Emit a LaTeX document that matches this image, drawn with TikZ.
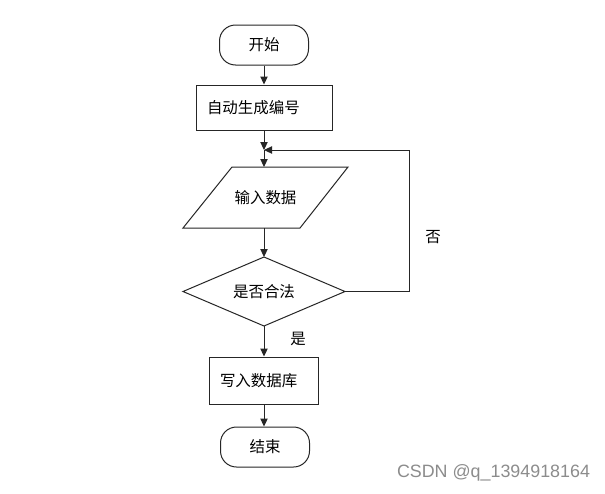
\documentclass[tikz,border=0pt]{standalone}
\usepackage{fontspec}
\setmainfont{Noto Sans CJK SC}
\newfontfamily\wmfont{Liberation Sans}
\usetikzlibrary{arrows.meta}
\begin{document}
\begin{tikzpicture}[x=0.75pt,y=-0.75pt,
  every node/.style={font=\fontsize{11.6pt}{13pt}\selectfont},
  line/.style={draw=black!85, line width=0.75pt},
  arr/.style={line, -{Triangle[length=6pt,width=5.5pt]}},
  term/.style={line, rounded corners=12pt, minimum width=66.75pt, minimum height=30pt, inner sep=0pt},
  procbox/.style={line, align=left, inner xsep=8.25pt, inner ysep=0pt},
  lbl/.style={inner sep=0pt}
]
\useasboundingbox (0,0) rectangle (605,493);
\fill[white] (0,0) rectangle (605,493);

% start
\node[term] (start) at (264,45) {开始};
% auto-generate number
\node[procbox, text width=85.5pt, minimum height=33.75pt] (gen) at (264,107.5) {自动生成编号};
% junction
\coordinate (j) at (264,150);
% parallelogram
\coordinate (p1) at (232,167);
\coordinate (p2) at (348,167);
\coordinate (p3) at (300,228);
\coordinate (p4) at (183,228);
\coordinate (ptop) at (264,167);
\coordinate (pbot) at (264,228);
\draw[line] (p1) -- (p2) -- (p3) -- (p4) -- cycle;
\node[lbl] (inp) at (265.5,197.5) {输入数据};
% diamond
\coordinate (dT) at (264,257);
\coordinate (dR) at (345,291.5);
\coordinate (dB) at (264,326);
\coordinate (dL) at (183,291.5);
\draw[line] (dT) -- (dR) -- (dB) -- (dL) -- cycle;
\node[lbl] (chk) at (264,291.5) {是否合法};
% write db
\node[procbox, text width=65.25pt, minimum height=35.25pt] (db) at (263.5,380.5) {写入数据库};
% end
\node[term] (end) at (265,447) {结束};

% connectors
\draw[arr] (start.south -| j) -- (gen.north -| j);
\draw[arr] (gen.south -| j) -- (j);
\draw[arr] (j) -- (ptop);
\draw[arr] (pbot) -- (dT);
\coordinate (lc) at (409,291.5);
\draw[arr] (dR) -- (lc) |- (j);
\draw[arr] (dB) -- (db.north -| dB);
\draw[arr] (db.south -| dB) -- (end.north -| dB);

% labels
\node[lbl] (no) at (433,237) {否};
\node[lbl] (yes) at (298,339) {是};
\node[inner sep=0pt, font=\wmfont\fontsize{13.4pt}{15pt}\selectfont, text=black!45] (wm) at (493.5,473) {CSDN @q\_1394918164};
\end{tikzpicture}
\end{document}
